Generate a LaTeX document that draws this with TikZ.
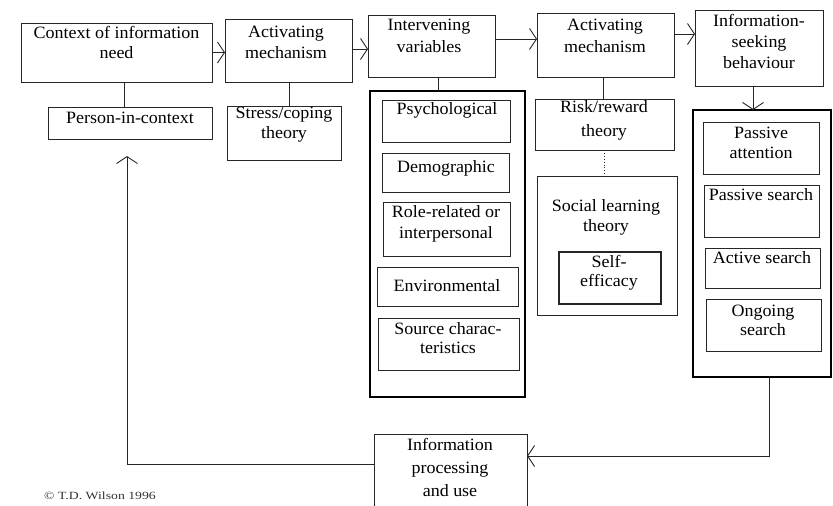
\documentclass[tikz,border=0pt]{standalone}
\usepackage{fontspec}
\setmainfont[FakeStretch=1.04]{Liberation Serif}
\newfontfamily\cpfont[FakeStretch=1.25]{Liberation Serif}
\usetikzlibrary{arrows.meta,fit}
\newcommand\bsk[1]{\fontsize{17.3}{#1}\selectfont}
\begin{document}
\begin{tikzpicture}[x=1pt,y=-1pt,
 box/.style={draw=black!85, line width=0.9pt, inner sep=0pt, outer sep=0pt},
 bigbox/.style={draw=black, line width=2.4pt, inner sep=0pt, outer sep=0pt},
 txt/.style={inner sep=0pt, align=center, text=black, font=\bsk{20}},
 conn/.style={draw=black!85, line width=0.9pt},
 arr/.style={conn, -{Straight Barb[length=7pt,width=21pt]}},
]
\useasboundingbox (0,0) rectangle (833,506);
\fill[white] (0,0) rectangle (833,506);
\clip (0,0) rectangle (833,506);

% top row
\node[box, fit={(21,23) (212,82)}] (ctx) {};
\node[box, fit={(225,19) (352,82)}] (act1) {};
\node[box, fit={(368,15) (495,77)}] (inter) {};
\node[box, fit={(537,13) (674,77)}] (act2) {};
\node[box, fit={(695,10) (823,86)}] (isb) {};

\node[txt, font=\bsk{20}] (ctxT) at (116.5,42) {Context of information\\need};
\node[txt, font=\bsk{21}] (act1T) at (286,42.5) {Activating\\mechanism};
\node[txt, font=\bsk{22}] (interT) at (429,36) {Intervening\\variables};
\node[txt, font=\bsk{22}] (act2T) at (605,36) {Activating\\mechanism};
\node[txt, font=\bsk{21}] (isbT) at (759,41) {Information-\\seeking\\behaviour};

% second row
\node[box, fit={(48,107) (212,139)}] (pic) {};
\node[txt] (picT) at (130,118) {Person-in-context};
\node[box, fit={(227,106) (341,160)}] (stress) {};
\node[txt, font=\bsk{20}] (stressT) at (284,125) {Stress/coping\\theory};

% intervening variables
\node[bigbox, fit={(370,91) (525,397)}] (interbig) {};
\node[box, fit={(382,100) (510,142)}] (psych) {};
\node[txt] (psychT) at (447,110) {Psychological};
\node[box, fit={(382,153) (509,192)}] (demo) {};
\node[txt] (demoT) at (446,168) {Demographic};
\node[box, fit={(383,202) (510,256)}] (role) {};
\node[txt, font=\bsk{21}] (roleT) at (446,223.5) {Role-related or\\interpersonal};
\node[box, fit={(377,267) (518,306)}] (env) {};
\node[txt] (envT) at (447,286) {Environmental};
\node[box, fit={(378,318) (519,370)}] (src) {};
\node[txt, font=\bsk{19}] (srcT) at (448,338.5) {Source charac-\\teristics};

% activating mechanism 2 column
\node[box, fit={(535,99) (674,150)}] (risk) {};
\node[txt, font=\bsk{24}] (riskT) at (604,120) {Risk/reward\\theory};
\node[box, fit={(537,176) (677,315)}] (social) {};
\node[txt, font=\bsk{20}] (socialT) at (606,217) {Social learning\\theory};
\node[box, line width=1.1pt, fit={(559,252) (661,304)}] (self) {};
\node[txt, font=\bsk{19}] (selfT) at (609,272.5) {Self-\\efficacy};

% information-seeking column
\node[bigbox, fit={(693,110) (831,377)}] (isbbig) {};
\node[box, fit={(703,122) (819,174)}] (pa) {};
\node[txt, font=\bsk{20}] (paT) at (761,143) {Passive\\attention};
\node[box, fit={(704,185) (819,237)}] (ps) {};
\node[txt] (psT) at (761,195) {Passive search};
\node[box, fit={(705,248) (820,288)}] (as) {};
\node[txt] (asT) at (762,258) {Active search};
\node[box, fit={(706,299) (821,351)}] (os) {};
\node[txt, font=\bsk{19}] (osT) at (763,320.5) {Ongoing\\search};

% bottom
\node[box, fit={(374,434) (527,512)}] (ipu) {};
\node[txt, font=\bsk{23}] (ipuT) at (450,467) {Information\\processing\\and use};
\node[inner sep=0pt, font=\cpfont\fontsize{11}{13}\selectfont, text=black!80] (copy) at (100,496) {© T.D. Wilson 1996};

% connectors
\draw[arr] (ctx.east) -- (ctx.east -| act1.west);
\draw[arr] (act1.east |- 0,49) -- (inter.west |- 0,49);
\draw[arr] (inter.east |- 0,39) -- (act2.west |- 0,39);
\draw[arr] (act2.east |- 0,34) -- (isb.west |- 0,34);
\draw[arr] (isb.south -| 753,0) -- (isbbig.north -| 753,0);

\draw[conn] (ctx.south -| 124,0) -- (pic.north -| 124,0);
\draw[conn] (act1.south -| 289,0) -- (stress.north -| 289,0);
\draw[conn] (inter.south -| 438,0) -- (interbig.north -| 438,0);
\draw[conn] (act2.south -| 603,0) -- (risk.north -| 603,0);
\draw[conn, dotted] (risk.south -| 604,0) -- (social.north -| 604,0);

\draw[arr] (isbbig.south -| 769,0) |- (ipu.east |- 0,456);
\draw[arr, shorten >=17pt] (ipu.west |- 0,464) -| (pic.south -| 127,0);
\end{tikzpicture}
\end{document}
